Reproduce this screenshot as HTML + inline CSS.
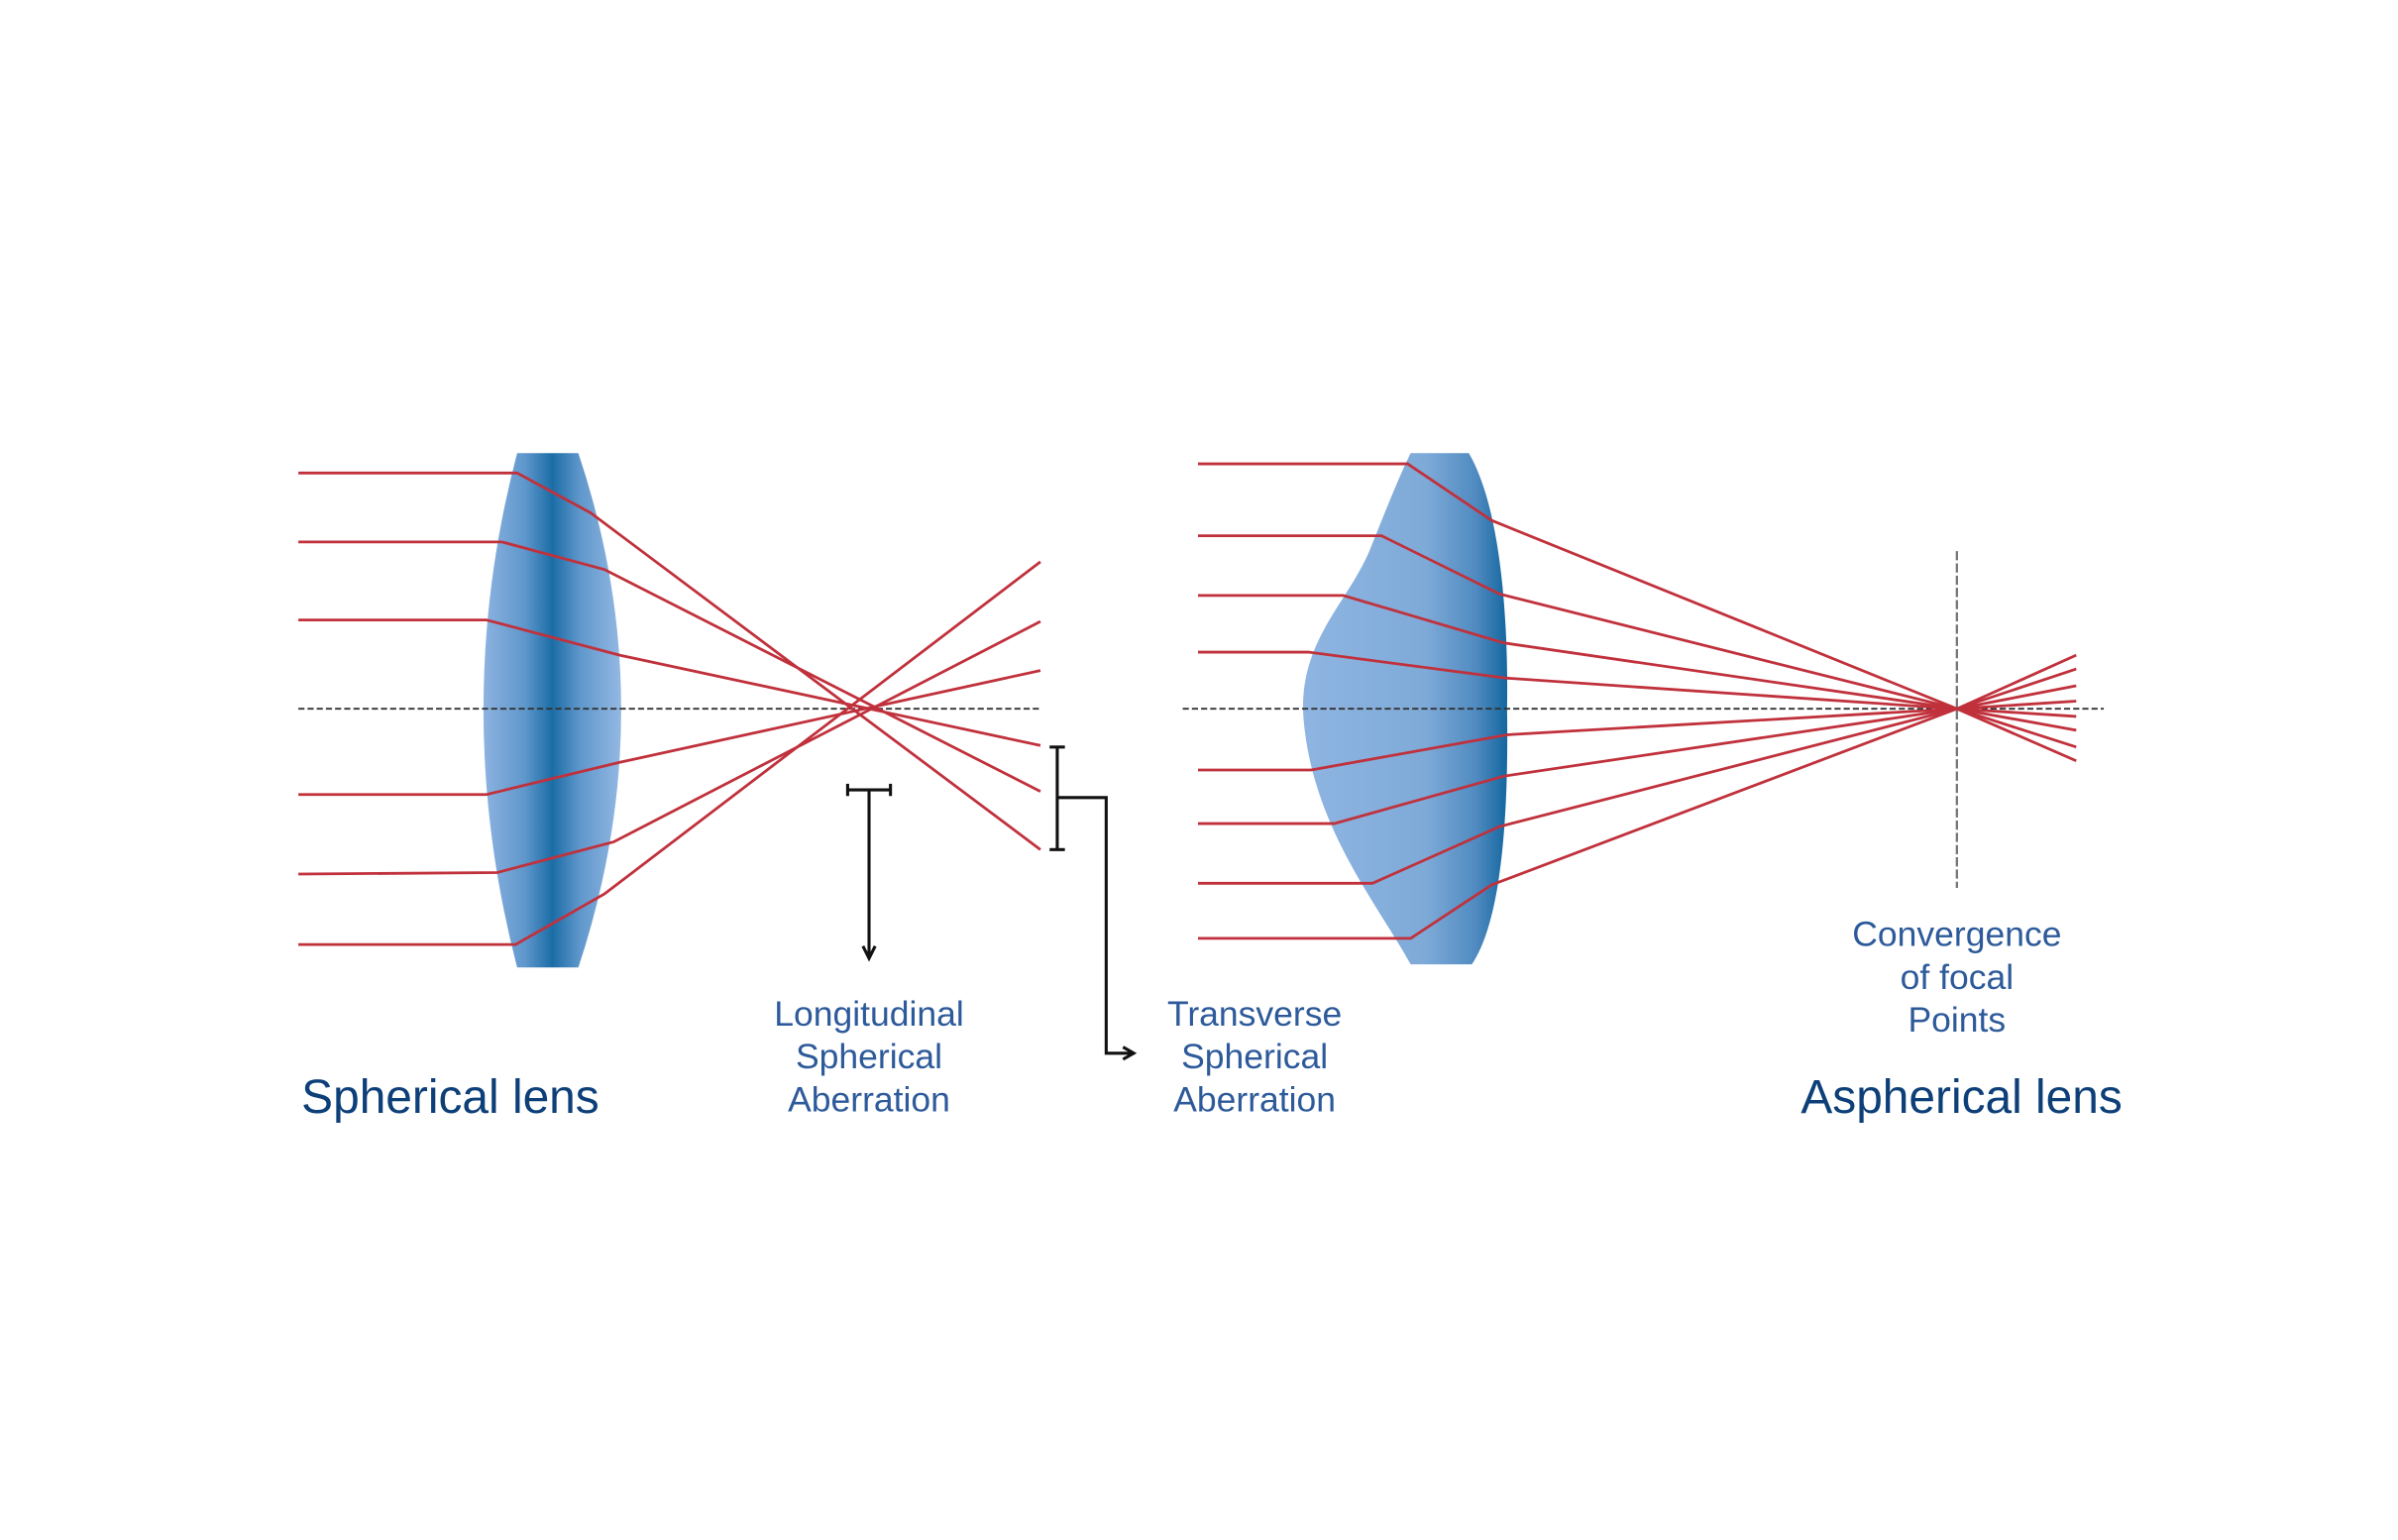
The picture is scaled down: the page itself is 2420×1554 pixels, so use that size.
<!DOCTYPE html>
<html><head><meta charset="utf-8"><style>
html,body{margin:0;padding:0;background:#fff;}
svg{display:block;}
</style></head><body>
<svg width="2420" height="1554" viewBox="0 0 1567.3 1006" preserveAspectRatio="none" xmlns="http://www.w3.org/2000/svg">
<defs>
<linearGradient id="g1" x1="0" x2="1" y1="0" y2="0" gradientUnits="objectBoundingBox">
<stop offset="0" stop-color="#8db3e0"/><stop offset="0.3" stop-color="#5f97cc"/>
<stop offset="0.5" stop-color="#1b6da6"/><stop offset="0.7" stop-color="#5f97cc"/>
<stop offset="1" stop-color="#93b8e2"/></linearGradient>
<linearGradient id="g2" x1="0" x2="1" y1="0" y2="0">
<stop offset="0" stop-color="#8fb5e2"/><stop offset="0.6" stop-color="#7eaad8"/>
<stop offset="0.85" stop-color="#4f8ac0"/><stop offset="1" stop-color="#13679f"/></linearGradient>
</defs>
<rect width="1570" height="1010" fill="#fff"/>
<path d="M338,296 L378,296 Q434,463 378,632 L338,632 Q294,463 338,296 Z" fill="url(#g1)"/>
<line x1="195" y1="463" x2="680" y2="463" stroke="#333" stroke-width="1.2" stroke-dasharray="4,2"/>
<g fill="none" stroke="#c0313c" stroke-width="1.8">
<polyline points="195,309 338,309 386,335 680,555"/>
<polyline points="195,354 328,354 395,372 680,517"/>
<polyline points="195,405 318,405 405,428 680,487"/>
<polyline points="195,519 318,519 405,498 680,438"/>
<polyline points="195,571 325,570 401,550 680,406"/>
<polyline points="195,617 337,617 395,584 680,367"/>
</g>
<g stroke="#111" stroke-width="2" fill="none">
<line x1="554" y1="516" x2="582" y2="516"/><line x1="554" y1="512" x2="554" y2="520"/><line x1="582" y1="512" x2="582" y2="520"/>
<line x1="568" y1="516" x2="568" y2="624"/>
<polyline points="564,618 568,626 572,618"/>
<line x1="691" y1="488" x2="691" y2="555"/><line x1="686" y1="488" x2="696" y2="488"/><line x1="686" y1="555" x2="696" y2="555"/>
<polyline points="691,521 723,521 723,688 740,688"/>
<polyline points="734,684 741,688 734,692"/>
</g>
<path d="M922,296 L960,296 C980,330 986,400 985,463 C986,530 982,600 962,630 L922,630 C900,590 858,540 852,470 C848,420 880,395 895,360 C905,335 915,310 922,296 Z" fill="url(#g2)"/>
<line x1="773" y1="463" x2="1375" y2="463" stroke="#333" stroke-width="1.2" stroke-dasharray="4,2"/>
<line x1="1279" y1="360" x2="1279" y2="580" stroke="#777" stroke-width="1.5" stroke-dasharray="6,2"/>
<g fill="none" stroke="#c0313c" stroke-width="1.8">
<polyline points="783,303 920,303 975,340 1279,463 1357,428"/>
<polyline points="783,350 903,350 980,388 1279,463 1357,437"/>
<polyline points="783,389 878,389 983,420 1279,463 1357,448"/>
<polyline points="783,426 855,426 985,443 1279,463 1357,458"/>
<polyline points="783,503 857,503 985,480 1279,463 1357,468"/>
<polyline points="783,538 872,538 983,507 1279,463 1357,477"/>
<polyline points="783,577 897,577 980,540 1279,463 1357,488"/>
<polyline points="783,613 922,613 975,578 1279,463 1357,497"/>
</g>
<g font-family="'Liberation Sans', sans-serif" fill="#2d5a9a" font-size="23" text-anchor="middle">
<text x="568" y="670">Longitudinal</text><text x="568" y="698">Spherical</text><text x="568" y="726">Aberration</text>
<text x="820" y="670">Transverse</text><text x="820" y="698">Spherical</text><text x="820" y="726">Aberration</text>
<text x="1279" y="618">Convergence</text><text x="1279" y="646">of focal</text><text x="1279" y="674">Points</text>
</g>
<g font-family="'Liberation Sans', sans-serif" fill="#0d3f78" font-size="31">
<text x="197" y="727">Spherical lens</text>
<text x="1177" y="727">Aspherical lens</text>
</g>
</svg>
</body></html>
